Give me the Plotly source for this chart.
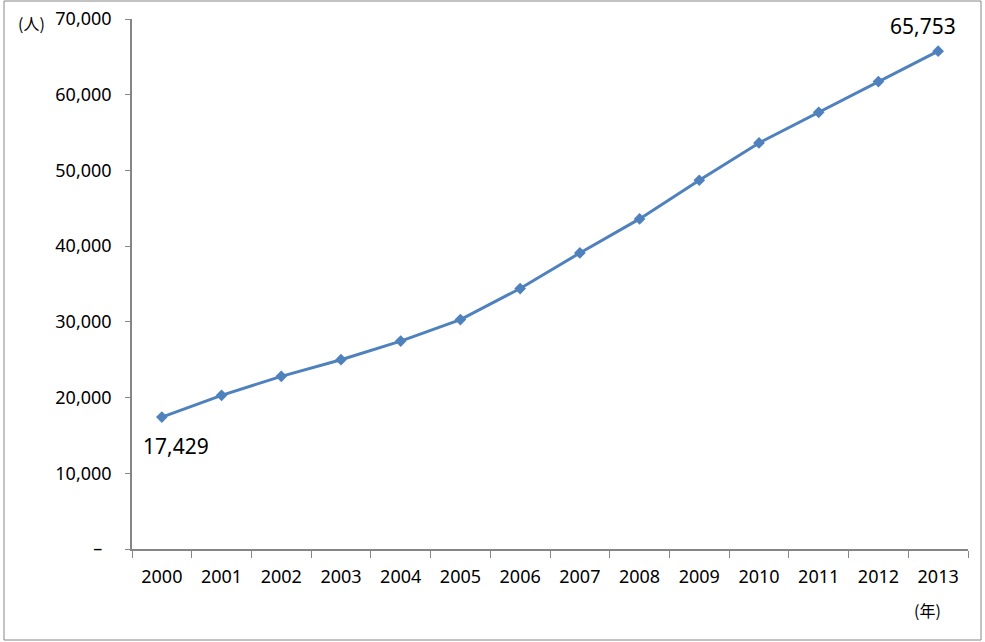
import plotly.graph_objects as go

years = ["2000", "2001", "2002", "2003", "2004", "2005", "2006",
         "2007", "2008", "2009", "2010", "2011", "2012", "2013"]
people = [17429, 20300, 22800, 25000, 27460, 30300, 34400,
          39100, 43600, 48700, 53630, 57680, 61730, 65753]
y_ticks = [0, 10000, 20000, 30000, 40000, 50000, 60000, 70000]
y_tick_labels = ["–\u00a0\u00a0", "10,000", "20,000", "30,000", "40,000",
                 "50,000", "60,000", "70,000"]

LINE = "#4F81BD"
AXIS = "#868686"
FONT = "Noto Sans, Noto Sans CJK JP, sans-serif"

fig = go.Figure()
fig.add_trace(go.Scatter(
    x=years, y=people, mode="lines+markers",
    line=dict(color=LINE, width=3),
    marker=dict(symbol="diamond", size=9, color=LINE),
    hoverinfo="x+y",
))

W, H = 985, 642
L, R, T, B = 132, 17, 19, 93
pw, ph = W - L - R, H - T - B

def px(x):
    return (x - L) / pw

def py(y):
    return (H - B - y) / ph

fig.update_layout(
    width=W, height=H,
    margin=dict(l=L, r=R, t=T, b=B, autoexpand=False),
    paper_bgcolor="white", plot_bgcolor="white",
    showlegend=False,
    font=dict(family=FONT, size=18, color="black"),
    xaxis=dict(
        type="category", range=[-0.5, 13.5],
        tickson="boundaries", ticks="outside", ticklen=7, tickcolor=AXIS,
        showline=True, linecolor=AXIS, linewidth=1.5,
        showgrid=False, zeroline=False, automargin=False,
        tickfont=dict(size=18), ticklabelstandoff=11,
    ),
    yaxis=dict(
        range=[0, 70000], tickvals=y_ticks, ticktext=y_tick_labels,
        ticks="outside", ticklen=5, tickcolor=AXIS,
        showline=True, linecolor=AXIS, linewidth=1.5,
        showgrid=False, zeroline=False, automargin=False,
        tickfont=dict(size=18), ticklabelstandoff=10,
    ),
    shapes=[dict(
        type="rect", xref="paper", yref="paper",
        x0=px(4), x1=px(981), y0=py(640), y1=py(1),
        line=dict(color=AXIS, width=1), fillcolor="rgba(0,0,0,0)",
        layer="below",
    )],
    annotations=[
        dict(x=0, y=people[0], text=f"{people[0]:,}", showarrow=False,
             xshift=14, yshift=-29, font=dict(size=21, color="black")),
        dict(x=len(years) - 1, y=people[-1], text=f"{people[-1]:,}", showarrow=False,
             xshift=-15, yshift=25, font=dict(size=21, color="black")),
        dict(x=px(31), y=py(23), xref="paper", yref="paper", text="(人)",
             xanchor="center", yanchor="middle",
             showarrow=False, font=dict(size=16, family="Noto Sans CJK JP")),
        dict(x=px(927), y=py(610), xref="paper", yref="paper", text="(年)",
             xanchor="center", yanchor="middle",
             showarrow=False, font=dict(size=16, family="Noto Sans CJK JP")),
    ],
)

fig.write_html("out.html", config={"displayModeBar": False},
               post_script="document.body.style.margin='0';document.body.style.overflow='hidden';")
